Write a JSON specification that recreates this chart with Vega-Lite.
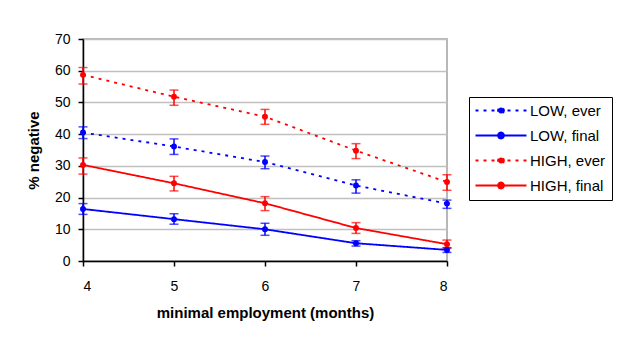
{
  "$schema": "https://vega.github.io/schema/vega-lite/v6.json",
  "autosize": "none",
  "width": 364,
  "height": 222,
  "padding": {"left": 83, "top": 39, "right": 172, "bottom": 77},
  "background": "white",
  "config": {
    "font": "Liberation Sans",
    "view": {"stroke": "#a0a0a0", "strokeWidth": 1.5}
  },
  "data": {
    "values": [
      {"x": 4, "series": "LOW, ever", "v": 40.5, "lo": 38.6, "hi": 42.3},
      {"x": 5, "series": "LOW, ever", "v": 36.1, "lo": 33.6, "hi": 38.5},
      {"x": 6, "series": "LOW, ever", "v": 31.2, "lo": 29.1, "hi": 33.1},
      {"x": 7, "series": "LOW, ever", "v": 23.8, "lo": 21.4, "hi": 25.6},
      {"x": 8, "series": "LOW, ever", "v": 18.1, "lo": 16.6, "hi": 19.2},
      {"x": 4, "series": "LOW, final", "v": 16.4, "lo": 14.7, "hi": 18.1},
      {"x": 5, "series": "LOW, final", "v": 13.2, "lo": 11.6, "hi": 14.9},
      {"x": 6, "series": "LOW, final", "v": 10.0, "lo": 8.1, "hi": 11.9},
      {"x": 7, "series": "LOW, final", "v": 5.6, "lo": 4.7, "hi": 6.4},
      {"x": 8, "series": "LOW, final", "v": 3.5, "lo": 2.7, "hi": 4.2},
      {"x": 4, "series": "HIGH, ever", "v": 58.7, "lo": 55.8, "hi": 61.0},
      {"x": 5, "series": "HIGH, ever", "v": 51.8, "lo": 49.1, "hi": 53.9},
      {"x": 6, "series": "HIGH, ever", "v": 45.5, "lo": 43.1, "hi": 47.8},
      {"x": 7, "series": "HIGH, ever", "v": 34.8, "lo": 32.3, "hi": 37.0},
      {"x": 8, "series": "HIGH, ever", "v": 24.9, "lo": 22.3, "hi": 27.2},
      {"x": 4, "series": "HIGH, final", "v": 30.3, "lo": 27.4, "hi": 32.5},
      {"x": 5, "series": "HIGH, final", "v": 24.5, "lo": 22.1, "hi": 26.7},
      {"x": 6, "series": "HIGH, final", "v": 18.2, "lo": 15.9, "hi": 20.3},
      {"x": 7, "series": "HIGH, final", "v": 10.4, "lo": 8.7, "hi": 12.1},
      {"x": 8, "series": "HIGH, final", "v": 5.3, "lo": 4.0, "hi": 6.6}
    ]
  },
  "encoding": {
    "x": {
      "field": "x", "type": "quantitative",
      "scale": {"domain": [4, 8], "nice": false, "zero": false},
      "axis": {
        "title": "minimal employment (months)",
        "values": [4, 5, 6, 7, 8],
        "grid": false,
        "domainColor": "black", "domainWidth": 1.5,
        "tickColor": "black", "tickSize": 5, "tickWidth": 1.5,
        "labelFontSize": 14, "labelColor": "black", "labelPadding": 13,
        "titleFontSize": 15, "titleFontWeight": "bold", "titleColor": "black", "titlePadding": 12
      }
    },
    "y": {
      "type": "quantitative",
      "scale": {"domain": [0, 70], "nice": false},
      "axis": {
        "title": "% negative",
        "values": [0, 10, 20, 30, 40, 50, 60, 70],
        "grid": true, "gridColor": "#c0c0c0", "gridWidth": 1.5,
        "domainColor": "black", "domainWidth": 1.5,
        "tickColor": "black", "tickSize": 5, "tickWidth": 1.5,
        "labelFontSize": 14, "labelColor": "black", "labelPadding": 8,
        "titleFontSize": 15, "titleFontWeight": "bold", "titleColor": "black", "titlePadding": 13
      }
    },
    "color": {
      "field": "series", "type": "nominal",
      "scale": {
        "domain": ["LOW, ever", "LOW, final", "HIGH, ever", "HIGH, final"],
        "range": ["#0000ff", "#0000ff", "#ff0000", "#ff0000"]
      },
      "legend": {
        "title": null,
        "orient": "none",
        "legendX": 386,
        "legendY": 58,
        "strokeColor": "black",
        "padding": 6,
        "labelFontSize": 15,
        "labelColor": "black",
        "symbolType": "M-1.4,0H8.8M4.3,0A0.6,0.6,0,1,1,3.1,0A0.6,0.6,0,1,1,4.3,0",
        "symbolSize": 100,
        "symbolStrokeWidth": 1.8,
        "symbolOpacity": 1,
        "labelOffset": 40,
        "rowPadding": 9
      }
    }
  },
  "layer": [
    {
      "mark": {"type": "rule", "strokeWidth": 1.5},
      "encoding": {"y": {"field": "lo"}, "y2": {"field": "hi"}}
    },
    {
      "mark": {"type": "tick", "orient": "horizontal", "size": 9, "thickness": 1.5},
      "encoding": {"y": {"field": "lo"}}
    },
    {
      "mark": {"type": "tick", "orient": "horizontal", "size": 9, "thickness": 1.5},
      "encoding": {"y": {"field": "hi"}}
    },
    {
      "mark": {"type": "line", "strokeWidth": 1.8},
      "encoding": {
        "y": {"field": "v"},
        "strokeDash": {
          "field": "series", "type": "nominal",
          "scale": {
            "domain": ["LOW, ever", "LOW, final", "HIGH, ever", "HIGH, final"],
            "range": [[3, 5], [1, 0], [3, 5], [1, 0]]
          },
          "legend": {"title": null}
        }
      }
    },
    {
      "mark": {"type": "point", "filled": true, "size": 35, "opacity": 1},
      "encoding": {"y": {"field": "v"}}
    }
  ]
}
